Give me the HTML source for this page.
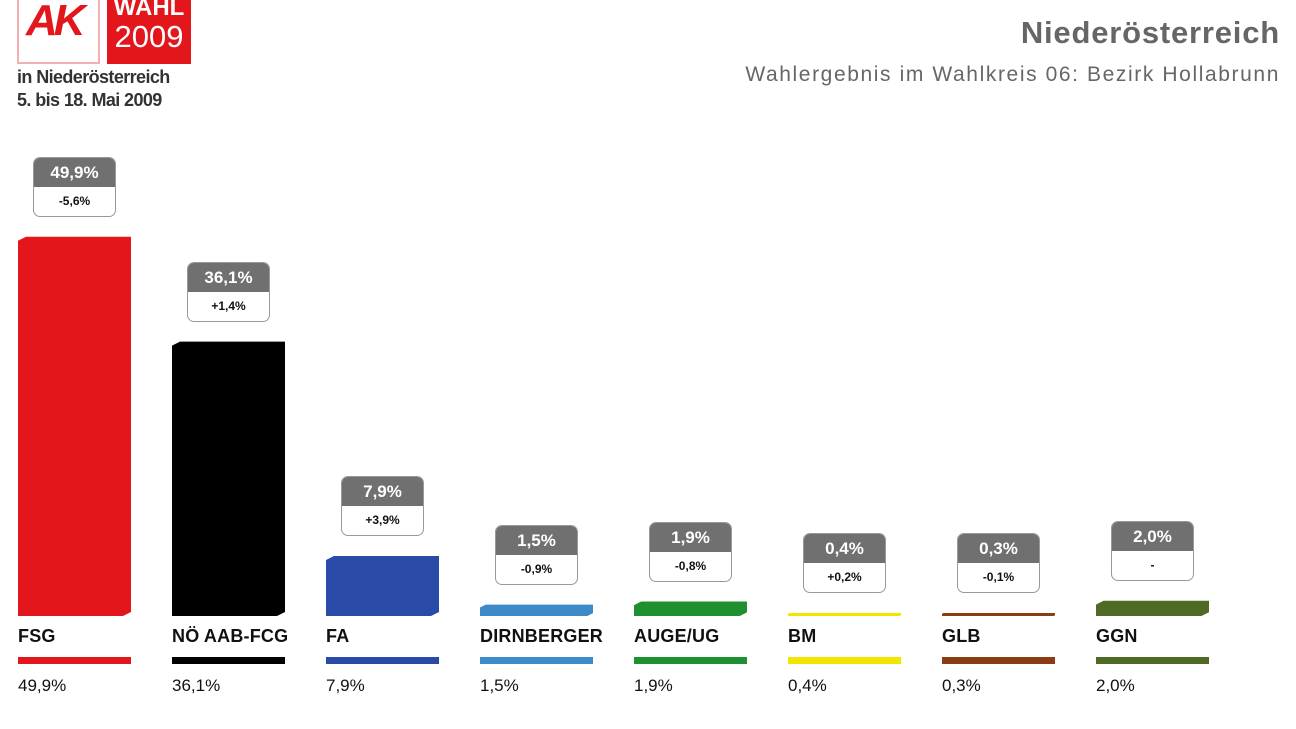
<!DOCTYPE html>
<html><head><meta charset="utf-8"><style>
body{margin:0;width:1296px;height:729px;background:#fff;overflow:hidden;position:relative;font-family:"Liberation Sans",sans-serif}
.abs{position:absolute}
.box{position:absolute;width:83px;height:60px;border:1px solid #999;border-radius:7px;overflow:hidden;background:#fff;box-sizing:border-box}
.box .h{height:29px;background:#707070;color:#fff;font-weight:bold;font-size:17px;text-align:center;line-height:29px}
.box .l{font-size:12px;font-weight:bold;text-align:center;line-height:29px;color:#111}
.nm{position:absolute;top:626px;font-weight:bold;font-size:18px;color:#111;letter-spacing:0.2px}
.ln{position:absolute;top:657px;height:7px;width:113px}
.pc{position:absolute;top:676px;font-size:17px;color:#111}
</style></head><body>
<div class="abs" style="left:17px;top:-6px;width:83px;height:70px;border:2px solid #f3b0b0;box-sizing:border-box"></div>
<div class="abs" style="left:26px;top:-4px;font-size:44px;font-weight:bold;font-style:italic;color:#e3161b;letter-spacing:-4px">AK</div>
<div class="abs" style="left:107px;top:-6px;width:84px;height:70px;background:#e3161b;color:#fff;text-align:center;font-size:24px;line-height:24px"><div style="font-weight:bold;margin-top:2px">WAHL</div><div style="font-size:31px;line-height:34px">2009</div></div>
<div class="abs" style="left:17px;top:66px;font-size:18px;font-weight:bold;color:#333;line-height:23px;letter-spacing:-0.6px;white-space:nowrap">in Niederösterreich<br>5. bis 18. Mai 2009</div>
<div class="abs" style="right:16px;top:15px;font-size:31px;font-weight:bold;color:#666;letter-spacing:0.8px">Niederösterreich</div>
<div class="abs" style="right:16px;top:63px;font-size:21px;color:#666;letter-spacing:1.6px;white-space:nowrap">Wahlergebnis im Wahlkreis 06: Bezirk Hollabrunn</div>
<svg class="abs" style="left:0;top:0" width="1296" height="729">
<g id="bars"></g>
</svg>
<div id="c"></div>
<script>
var d=[["FSG",49.9,"-5,6%","#e3161b"],["NÖ AAB-FCG",36.1,"+1,4%","#000"],["FA",7.9,"+3,9%","#2a4aa8"],["DIRNBERGER",1.5,"-0,9%","#3c8ac8"],["AUGE/UG",1.9,"-0,8%","#1f9030"],["BM",0.4,"+0,2%","#f2e600"],["GLB",0.3,"-0,1%","#8a3d12"],["GGN",2.0,"-","#4e6a24"]];
var g=document.getElementById("bars"),c=document.getElementById("c"),s="",h="";
d.forEach(function(e,i){var x=18+154*i,b=616,hh=Math.max(e[1]*7.6,3),t=b-hh,k=Math.min(8,hh/2);
var f=e[1].toFixed(1).replace(".",",")+"%";
s+='<polygon fill="'+e[3]+'" points="'+x+','+b+' '+x+','+(t+k/2)+' '+(x+k)+','+t+' '+(x+113)+','+t+' '+(x+113)+','+(b-k/2)+' '+(x+113-k)+','+b+'"/>';
h+='<div class="box" style="left:'+(x+15)+'px;top:'+(t-80)+'px"><div class="h">'+f+'</div><div class="l">'+e[2]+'</div></div>';
h+='<div class="nm" style="left:'+x+'px">'+e[0]+'</div><div class="ln" style="left:'+x+'px;background:'+e[3]+'"></div><div class="pc" style="left:'+x+'px">'+f+'</div>';});
g.innerHTML=s;c.innerHTML=h;
</script>
</body></html>
